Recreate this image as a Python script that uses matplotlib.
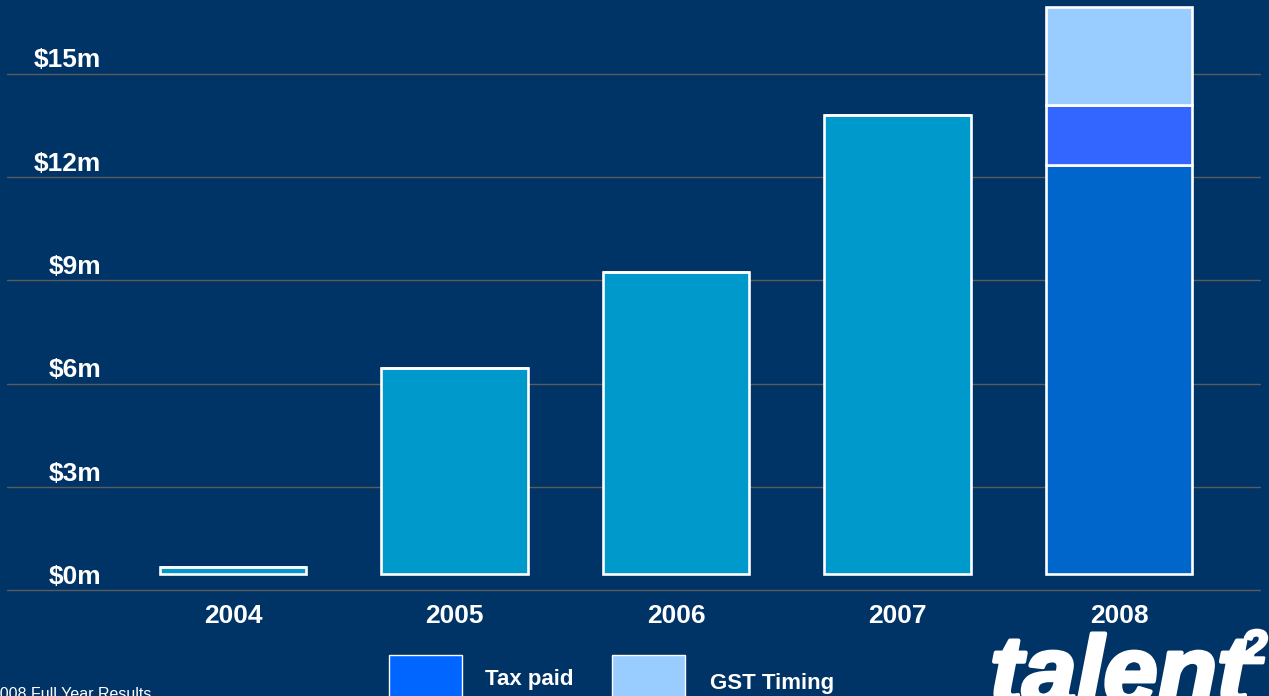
import matplotlib.pyplot as plt
import matplotlib.patheffects as pe
from matplotlib.patches import Rectangle
from matplotlib.transforms import ScaledTranslation

plt.rcParams['font.family'] = ['Liberation Sans', 'DejaVu Sans']

# data ($m)
years = ['2004', '2005', '2006', '2007', '2008']
profit = [0.22, 6.0, 8.78, 13.34, 11.89]
tax_paid = [0, 0, 0, 0, 1.74]
gst_timing = [0, 0, 0, 0, 2.84]
yticks = [0, 3, 6, 9, 12, 15]
ylabels = ['$0m', '$3m', '$6m', '$9m', '$12m', '$15m']

bg = '#003366'
bar_cols = ['#0099CC', '#0099CC', '#0099CC', '#0099CC', '#0066CC']

W, H = 1269, 696
fig = plt.figure(figsize=(W / 100, H / 100), dpi=100, facecolor=bg)
ax = fig.add_axes([7 / W, (H - 600) / H, (1261 - 7) / W, 600 / H])
ax.set_facecolor(bg)

x = list(range(len(years)))
bw = 0.66
ax.bar(x, profit, width=bw, color=bar_cols, edgecolor='white', linewidth=1.9, zorder=3)
ax.bar(x, tax_paid, width=bw, bottom=profit, color='#3366FF', edgecolor='white',
       linewidth=1.9, zorder=3)
base3 = [p + t for p, t in zip(profit, tax_paid)]
ax.bar(x[-1:], gst_timing[-1:], width=bw, bottom=base3[-1:], color='#99CCFF',
       edgecolor='white', linewidth=1.9, zorder=3)

# gridlines sit a little below the labels in the original
off = ax.get_yaxis_transform() + ScaledTranslation(0, -0.16, fig.dpi_scale_trans)
for v in yticks:
    ax.plot([0, 1], [v, v], color='#5c5c5c', lw=1, transform=off, zorder=1)

ax.set_xlim(-1.02, 4.641)
ax.set_ylim(-0.746, 16.68)
ax.set_yticks(yticks)
ax.set_yticklabels(ylabels, color='white', fontsize=19, fontweight='bold', ha='right')
ax.set_xticks(x)
ax.set_xticklabels(years, color='white', fontsize=19, fontweight='bold')
ax.tick_params(axis='y', length=0, pad=-67.7)
ax.tick_params(axis='x', length=0, pad=3)
for s in ax.spines.values():
    s.set_visible(False)


def px(xp, yp):
    return xp / W, (H - yp) / H


# legend
for x0, col, label, tx, ty in [(389, '#0066FF', 'Tax paid', 485, 679),
                               (612, '#99CCFF', 'GST Timing', 710, 683)]:
    fx, fy = px(x0, 700)
    fig.patches.append(Rectangle((fx, fy), 73 / W, 45 / H, transform=fig.transFigure,
                                 facecolor=col, edgecolor='white', lw=1))
    lx, ly = px(tx, ty)
    fig.text(lx, ly, label, color='white', fontsize=16, fontweight='bold', va='center')

# footer and logo
fx, fy = px(151, 699)
fig.text(fx, fy, '2008 Full Year Results', color='white', fontsize=11.5, ha='right',
         va='baseline')
lx, ly = px(990, 704)
fig.text(lx, ly, 'talent', color='white', fontsize=70, fontweight='bold', style='italic',
         va='baseline', path_effects=[pe.withStroke(linewidth=3, foreground='white')])
lx, ly = px(1241, 663)
fig.text(lx, ly, '2', color='white', fontsize=34, fontweight='bold', style='italic',
         va='baseline', path_effects=[pe.withStroke(linewidth=2, foreground='white')])

fig.savefig('out.png', dpi=100, facecolor=bg)
